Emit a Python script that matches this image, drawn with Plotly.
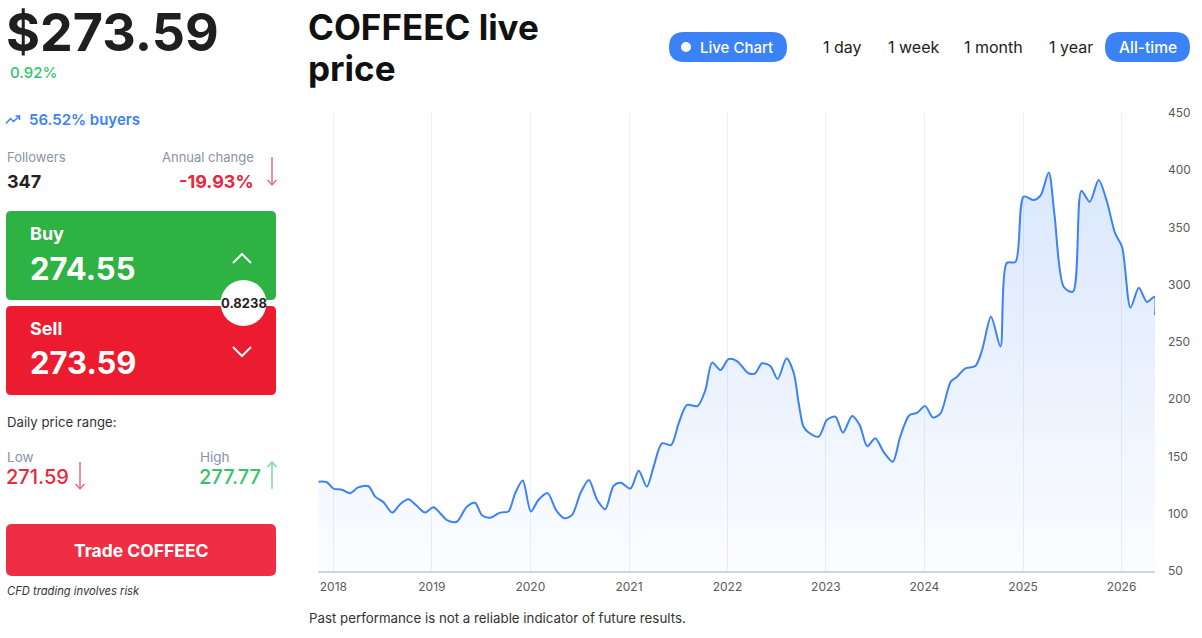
import plotly.graph_objects as go

W, H = 1202, 638

# ---------------- data ----------------
dates = ["2017-11-06","2017-12-08","2018-01-01","2018-02-02","2018-03-04","2018-04-03","2018-05-11","2018-06-05",
         "2018-07-06","2018-08-07","2018-09-06","2018-10-06","2018-11-06","2018-12-07",
         "2019-01-07","2019-02-26","2019-04-03","2019-05-10","2019-06-10","2019-07-05","2019-08-05","2019-09-11",
         "2019-10-12","2019-11-06","2019-12-04",
         "2020-01-03","2020-01-31","2020-03-05","2020-04-06","2020-05-07","2020-06-04","2020-07-05","2020-08-05",
         "2020-09-05","2020-10-05","2020-11-05","2020-12-02",
         "2021-01-06","2021-02-06","2021-03-08","2021-04-02","2021-05-03","2021-06-06","2021-07-04","2021-08-04",
         "2021-09-12","2021-10-11","2021-11-05","2021-12-06",
         "2022-01-05","2022-02-05","2022-03-20","2022-04-14","2022-05-09","2022-06-09","2022-07-06","2022-08-08",
         "2022-09-04","2022-09-22","2022-10-10","2022-10-29","2022-12-05",
         "2023-01-05","2023-02-05","2023-03-05","2023-04-08","2023-05-06","2023-06-03","2023-07-03","2023-08-03",
         "2023-09-06","2023-10-03","2023-11-06","2023-12-04",
         "2024-01-04","2024-02-02","2024-03-01","2024-04-07","2024-05-01","2024-06-01","2024-07-08","2024-08-02",
         "2024-09-04","2024-10-09","2024-11-01","2024-12-04",
         "2025-01-03","2025-02-10","2025-03-07","2025-04-06","2025-04-27","2025-06-01","2025-07-05","2025-08-05",
         "2025-09-05","2025-10-08","2025-11-08","2025-12-08",
         "2026-01-03","2026-02-03","2026-03-06","2026-04-05","2026-05-03","2026-05-05"]

prices = [128, 127.5,
          122, 121, 118, 123, 124, 115, 110, 101, 108.5, 112.6, 107, 101,
          105.6, 94.5, 93, 106, 109.6, 99, 96.5, 101, 102, 118, 129,
          102, 112, 118, 103, 96, 99, 118, 129.5, 112, 104, 124.5, 127,
          122, 137.6, 123.6, 141, 161.5, 160, 179, 195, 194, 208, 232, 225.5,
          235, 233.4, 222.7, 222.7, 231.4, 229, 217.7, 235.8, 222.7, 196.5, 176, 171, 167.3,
          182, 184.8, 170.8, 185.4, 177.5, 159, 166, 154, 145.5, 167, 186, 188,
          194, 184, 187.7, 215, 219.7, 227, 229, 243, 272, 246, 319, 320,
          377, 374, 378, 398, 362, 298, 294, 382, 372.5, 391.5, 372.5, 345,
          333, 280, 297.4, 285, 289.6, 273.6]

year_ticks = ["2018-01-01","2019-01-01","2020-01-01","2021-01-01","2022-01-01",
              "2023-01-01","2024-01-01","2025-01-01","2026-01-01"]
year_labels = ["2018","2019","2020","2021","2022","2023","2024","2025","2026"]
price_ticks = [50, 100, 150, 200, 250, 300, 350, 400, 450]

# ---------------- helpers ----------------
def px(x): return x / W
def py(y): return 1 - y / H
def P(x, y): return f"{px(x):.5f},{py(y):.5f}"

def rrect(x0, y0, x1, y1, r, color):
    path = (f"M {P(x0+r,y0)} L {P(x1-r,y0)} Q {P(x1,y0)} {P(x1,y0+r)} "
            f"L {P(x1,y1-r)} Q {P(x1,y1)} {P(x1-r,y1)} L {P(x0+r,y1)} "
            f"Q {P(x0,y1)} {P(x0,y1-r)} L {P(x0,y0+r)} Q {P(x0,y0)} {P(x0+r,y0)} Z")
    return dict(type="path", path=path, xref="paper", yref="paper",
                fillcolor=color, line=dict(width=0), layer="above")

def poly(points, color, width=1.5):
    path = "M " + " L ".join(P(x, y) for x, y in points)
    return dict(type="path", path=path, xref="paper", yref="paper",
                line=dict(color=color, width=width), layer="above")

FONT = "Inter, 'Noto Sans', sans-serif"
annots = []
def txt(x, y, s, size, color, weight=400, xanchor="left", italic=False):
    annots.append(dict(x=px(x), y=py(y), xref="paper", yref="paper", text=s, showarrow=False,
                       xanchor=xanchor, yanchor="middle",
                       font=dict(family=FONT, size=size, color=color, weight=weight,
                                 style="italic" if italic else "normal")))

# ---------------- figure ----------------
fig = go.Figure()
fig.add_trace(go.Scatter(
    x=dates, y=prices, mode="lines",
    line=dict(color="#3b82f6", width=2, shape="spline", smoothing=0.8),
    fill="tozeroy",
    fillgradient=dict(type="vertical", start=50, stop=400,
                      colorscale=[[0, "rgba(59,130,246,0.02)"], [1, "rgba(59,130,246,0.19)"]]),
    hoverinfo="skip", showlegend=False))

RED = "#e8283c"
GREEN = "#34c26c"
GRAY = "#8a93a6"
BLUE = "#3b82f6"

shapes = []
# Buy / Sell boxes
shapes.append(rrect(6, 211, 276, 300, 5, "#2db243"))
shapes.append(rrect(6, 306, 276, 395, 5, "#ec1b2f"))
shapes.append(poly([(233, 263), (242, 254), (251, 263)], "white", 2))
shapes.append(poly([(233, 347), (242, 356), (251, 347)], "white", 2))
shapes.append(dict(type="circle", xref="paper", yref="paper",
                   x0=px(220.5), x1=px(266.5), y0=py(326), y1=py(280),
                   fillcolor="white", line=dict(width=0), layer="above"))
# Trade button
shapes.append(rrect(6, 524, 276, 576, 6, "#ee2e44"))
# pills
shapes.append(rrect(669, 32, 787, 62, 15, BLUE))
shapes.append(rrect(1105, 32, 1190, 62, 15, BLUE))
shapes.append(dict(type="circle", xref="paper", yref="paper",
                   x0=px(681), x1=px(691), y0=py(52), y1=py(42),
                   fillcolor="white", line=dict(width=0), layer="above"))
# arrows
def arrow(x, y0, y1, color, down=True):
    shapes.append(poly([(x, y0), (x, y1)], color, 1.5))
    if down:
        shapes.append(poly([(x-4.5, y1-5), (x, y1), (x+4.5, y1-5)], color, 1.5))
    else:
        shapes.append(poly([(x-4.5, y0+5), (x, y0), (x+4.5, y0+5)], color, 1.5))
arrow(272, 157, 185, "#f06a7a", True)
arrow(80, 462, 489, "#f06a7a", True)
arrow(272, 462, 489, "#7dd8a0", False)
# trending icon
shapes.append(poly([(6, 123.5), (10.5, 118.5), (13.5, 121.5), (19.5, 116)], BLUE, 1.5))
shapes.append(poly([(15.5, 116), (19.5, 116), (19.5, 120)], BLUE, 1.5))

# ---------------- texts ----------------
txt(4, 33, "$273.59", 52, "#1f1f1f", 700)
txt(8, 73, "0.92%", 15, GREEN, 500)
txt(27, 120, "56.52% buyers", 15, BLUE, 600)
txt(4.5, 157, "Followers", 13, GRAY)
txt(4.5, 181, "347", 18, "#222222", 700)
txt(256, 157, "Annual change", 13, GRAY, xanchor="right")
txt(256, 181, "-19.93%", 18, RED, 700, xanchor="right")
txt(28, 233, "Buy", 18, "white", 700)
txt(28, 268, "274.55", 31, "white", 700)
txt(28, 328, "Sell", 18, "white", 700)
txt(28, 362, "273.59", 31, "white", 700)
txt(244, 303, "0.8238", 13, "#1f1f1f", 700, xanchor="center")
txt(4.5, 422, "Daily price range:", 13.2, "#333333")
txt(4.5, 457, "Low", 13.5, GRAY)
txt(4, 477, "271.59", 20, RED, 500)
txt(197.5, 457, "High", 13.5, GRAY)
txt(197, 477, "277.77", 20, GREEN, 500)
txt(141, 550, "Trade COFFEEC", 17.5, "white", 700, xanchor="center")
txt(5, 591, "CFD trading involves risk", 11.2, "#333333", italic=True)

txt(306, 27, "COFFEEC live", 35, "#111111", 700)
txt(306, 68, "price", 35, "#111111", 700)

txt(698, 47, "Live Chart", 15, "white", 500)
txt(842.5, 47, "1 day", 16, "#222222", xanchor="center")
txt(913, 47, "1 week", 16, "#222222", xanchor="center")
txt(993.5, 47, "1 month", 16, "#222222", xanchor="center")
txt(1070.5, 47, "1 year", 16, "#222222", xanchor="center")
txt(1147.5, 47, "All-time", 15.5, "white", 500, xanchor="center")

txt(306.5, 618, "Past performance is not a reliable indicator of future results.", 13.3, "#333333")

fig.update_layout(
    width=W, height=H, autosize=False,
    margin=dict(l=0, r=0, t=0, b=0, autoexpand=False),
    paper_bgcolor="white", plot_bgcolor="white",
    shapes=shapes, annotations=annots,
    hovermode=False,
    xaxis=dict(domain=[px(318.3), px(1155)], range=["2017-11-06", "2026-05-05"],
               tickvals=year_ticks, ticktext=year_labels, automargin=False,
               showgrid=True, gridcolor="#e9eff8", gridwidth=1,
               showline=True, linecolor="#cfd5df", linewidth=1.5,
               ticks="", ticklabelstandoff=4, zeroline=False,
               tickfont=dict(family=FONT, size=12, color="#5a5a5a")),
    yaxis=dict(domain=[1 - 571 / H, 1 - 113 / H], range=[50, 450], side="right",
               tickvals=price_ticks, showgrid=False, zeroline=False, showline=False,
               ticks="", ticklabelstandoff=12, automargin=False,
               tickfont=dict(family=FONT, size=12, color="#5a5a5a")),
)

fig.write_html("out.html", config={"displayModeBar": False})
